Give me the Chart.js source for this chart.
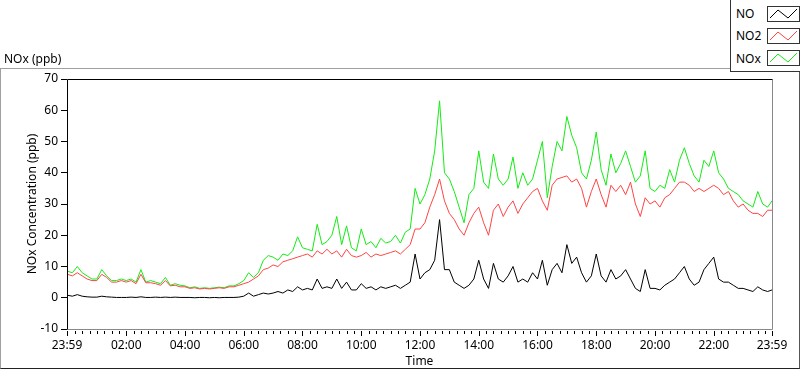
<!DOCTYPE html>
<html>
<head>
<meta charset="utf-8">
<script src="https://cdn.jsdelivr.net/npm/chart.js@4.4.0/dist/chart.umd.min.js"></script>
<style>
  body { margin: 0; background: #fff; font-family: "Noto Sans", sans-serif; }
  #wrap { position: relative; width: 800px; height: 369px; overflow: hidden; }
  #panel { position: absolute; left: 0; top: 68px; width: 798px; height: 299px;
           border-left: 1px solid #a0a0a0; border-top: 1px solid #a0a0a0;
           border-right: 1px solid #555; border-bottom: 1px solid #222; }
  #chart { position: absolute; left: 0; top: 0; }
  #ytitle { position: absolute; left: 4px; top: 50px; font-size: 12px; color: #000; }
  #legend { position: absolute; left: 730px; top: 0; width: 69px; height: 71px; background: #fff;
            border-left: 1px solid #333; border-bottom: 1px solid #333; }
  .lab { position: absolute; left: 5px; font-size: 12px; color: #000; }
  .sw { position: absolute; left: 36px; width: 31px; height: 14px; background: #fff; border: 1px solid #333; }
</style>
</head>
<body>
<div id="wrap">
  <div id="panel"></div>
  <canvas id="chart" width="800" height="369"></canvas>
  <div id="ytitle">NOx (ppb)</div>
  <div id="legend">
    <div class="lab" style="top:5px">NO</div>
    <svg class="sw" style="top:6px" viewBox="0 0 31 14"><polyline points="2,11 10,3 20,11 29,2" fill="none" stroke="#000" stroke-width="1"/></svg>
    <div class="lab" style="top:27px">NO2</div>
    <svg class="sw" style="top:28px" viewBox="0 0 31 14"><polyline points="2,11 10,3 20,11 29,2" fill="none" stroke="#ff4444" stroke-width="1"/></svg>
    <div class="lab" style="top:50px">NOx</div>
    <svg class="sw" style="top:50px" viewBox="0 0 31 14"><polyline points="2,11 10,3 20,11 29,2" fill="none" stroke="#14eb14" stroke-width="1"/></svg>
  </div>
</div>
<script>
// 10-minute readings, 00:00 .. 23:59
var NO = [
  0.8, 0.5, 1, 0.5, 0.3, 0.2,
  0.2, 0.5, 0.3, 0.2, 0.1, 0.1,
  0.1, 0.2, 0.1, 0.3, 0.1, 0.1,
  0.2, 0.1, 0.2, 0.1, 0.2, 0.1,
  0.1, 0.1, 0, 0.1, 0.1, 0,
  0.1, 0, 0.1, 0.1, 0.1, 0.2,
  0.5, 1.5, 0.5, 1, 1.5, 1.2,
  1.5, 2, 1.5, 2.5, 2, 3.5,
  2.5, 3, 2.5, 6, 3, 3.5,
  3, 6, 3, 5, 2.5, 2.5,
  4.5, 3, 3.5, 2.5, 3.5, 3,
  3.5, 4, 3, 4, 5, 14,
  6, 8, 9, 12, 25, 9,
  9, 5, 4, 3, 4, 6,
  12, 6, 3, 11, 6, 5,
  7, 10, 5, 6, 5, 8,
  6, 12, 4, 9, 11, 8,
  17, 11, 13, 8, 5, 7,
  14, 7, 5, 9, 6, 7,
  9, 6, 3, 2, 9, 3,
  3, 2.5, 4, 5, 6, 8,
  10, 6, 4, 5, 9, 11,
  13, 6, 5, 5, 4, 3,
  3, 2.5, 2, 3.5, 2.5, 2, 2.5
];
var NO2 = [
  7.5, 7, 8, 7, 6, 5.5,
  5.5, 7.5, 6.5, 5, 5, 5.5,
  5, 5.5, 4.5, 7.5, 4.8, 4.8,
  4.5, 4, 5.5, 3.8, 4, 3.5,
  3.5, 3, 3.2, 2.8, 3, 2.8,
  3, 3.2, 3, 3.5, 3.5, 4,
  4.5, 5, 6, 7, 9, 9.5,
  10.5, 10, 11.5, 12, 12.5, 13,
  13.5, 14, 13, 15, 14, 15.5,
  14, 15, 13, 15.5, 13.5, 13,
  13.5, 14.5, 13, 14, 13.5, 14,
  14.5, 15, 14, 15.5, 17, 22,
  22, 24, 29, 33, 38, 31,
  27, 25, 22, 20, 24, 27,
  29, 24, 20, 28, 30, 26,
  29, 31, 27, 30, 32, 34,
  35, 31, 28, 36, 38, 38.5,
  39, 37, 38, 35, 29, 34,
  38, 33, 29, 36, 34, 36,
  33, 37, 30, 26, 32, 30,
  31, 29, 32, 33, 35, 37,
  37, 36, 34, 35, 34, 35,
  36, 35, 33, 34, 31, 29,
  30, 28, 27, 27, 26, 28, 28
];
var NOx = [
  8.5, 8, 10, 8, 7, 6,
  6, 9, 7, 5.5, 5.5, 6,
  5.5, 6, 5, 9, 5, 5.5,
  5, 4.5, 6.5, 4, 4.5, 4,
  3.8, 3.2, 3.5, 3, 3.2, 3,
  3.2, 3.4, 3.2, 3.8, 3.8, 4.5,
  5.5, 8, 6.5, 8, 12, 13.5,
  13, 12, 14, 13.5, 15, 19.5,
  16, 15.5, 15, 23.5, 17, 18,
  20, 26, 17, 23, 16, 15,
  22, 17, 18, 16, 19, 17.5,
  18, 20, 17.5, 21, 22, 35,
  30, 33, 38, 47, 63, 40,
  38, 34, 29, 24, 33, 35,
  47, 37, 35, 46, 38, 36,
  38, 45, 35, 40, 36, 38,
  44, 50, 32, 42, 50, 47,
  58, 52, 48, 40, 38, 44,
  53, 41, 36, 46, 40, 43,
  47, 42, 37, 39, 47, 35,
  34, 36, 35, 41, 37, 44,
  48, 43, 39, 37, 44, 42,
  47, 40, 38, 35, 34, 33,
  31, 30, 29, 34, 30, 29, 31
];
// minutes after midnight for each reading
var minutes = NO.map(function (v, i) { return Math.min(i * 10, 1439); });
var yTicks = [-10, 0, 10, 20, 30, 40, 50, 60, 70];
var xLabelTicks = [-1, 120, 240, 360, 480, 600, 720, 840, 960, 1080, 1200, 1320, 1439];

function pts(vals) { return vals.map(function (v, i) { return { x: minutes[i], y: v }; }); }

function fmt(m) {
  if (m < 0 || m >= 1439) return '23:59';
  var h = Math.floor(m / 60);
  return (h < 10 ? '0' : '') + h + ':00';
}

Chart.defaults.font.family = '"Noto Sans", sans-serif';
Chart.defaults.font.size = 12;
Chart.defaults.color = '#000';

var framePlugin = {
  id: 'frame',
  afterDraw: function (chart) {
    var c = chart.ctx, a = chart.chartArea, xs = chart.scales.x;
    c.save();
    c.lineWidth = 1;
    // minor ticks every 15 min, longer ones at labels
    c.strokeStyle = '#000';
    c.beginPath();
    var marks = [-1];
    for (var m = 15; m < 1439; m += 15) marks.push(m);
    marks.push(1439);
    marks.forEach(function (m) {
      var px = Math.round(xs.getPixelForValue(m)) + 0.5;
      var major = xLabelTicks.indexOf(m) >= 0;
      c.moveTo(px, a.bottom + 2);
      c.lineTo(px, a.bottom + (major ? 7 : 5));
    });
    c.stroke();
    var l = Math.round(a.left) + 0.5, t = Math.round(a.top) + 0.5;
    var r = Math.round(a.right) + 0.5, b = Math.round(a.bottom) + 0.5;
    c.strokeStyle = '#888';
    c.beginPath(); c.moveTo(r, t); c.lineTo(r, b); c.lineTo(l, b); c.stroke();
    c.strokeStyle = '#000';
    c.beginPath(); c.moveTo(l, b); c.lineTo(l, t); c.lineTo(r, t); c.stroke();
    c.restore();
  }
};

new Chart(document.getElementById('chart').getContext('2d'), {
  type: 'line',
  data: {
    datasets: [
      { label: 'NO', data: pts(NO), borderColor: '#000000' },
      { label: 'NO2', data: pts(NO2), borderColor: '#ff4444' },
      { label: 'NOx', data: pts(NOx), borderColor: '#14eb14' }
    ]
  },
  options: {
    responsive: false,
    animation: false,
    layout: { padding: { left: 0, top: 79, right: 28, bottom: 0 } },
    elements: {
      line: { borderWidth: 1, tension: 0 },
      point: { radius: 0 }
    },
    plugins: { legend: { display: false }, tooltip: { enabled: false } },
    scales: {
      x: {
        type: 'linear',
        min: -1,
        max: 1439,
        afterBuildTicks: function (s) { s.ticks = xLabelTicks.map(function (v) { return { value: v }; }); },
        afterFit: function (s) { s.height = 40; },
        border: { display: false },
        grid: { drawOnChartArea: false, color: 'transparent', tickLength: 8 },
        ticks: { autoSkip: false, maxRotation: 0, padding: 1, callback: function (v) { return fmt(v); } },
        title: { display: true, text: 'Time', padding: { top: 0, bottom: 0 } }
      },
      y: {
        min: -10,
        max: 70,
        afterBuildTicks: function (s) { s.ticks = yTicks.map(function (v) { return { value: v }; }); },
        afterFit: function (s) { s.width = 67; },
        border: { display: false },
        grid: { drawOnChartArea: false, color: '#000', tickLength: 6 },
        ticks: { padding: 3 },
        title: { display: true, text: 'NOx Concentration (ppb)', padding: { top: 25, bottom: 0 } }
      }
    }
  },
  plugins: [framePlugin]
});
</script>
</body>
</html>
